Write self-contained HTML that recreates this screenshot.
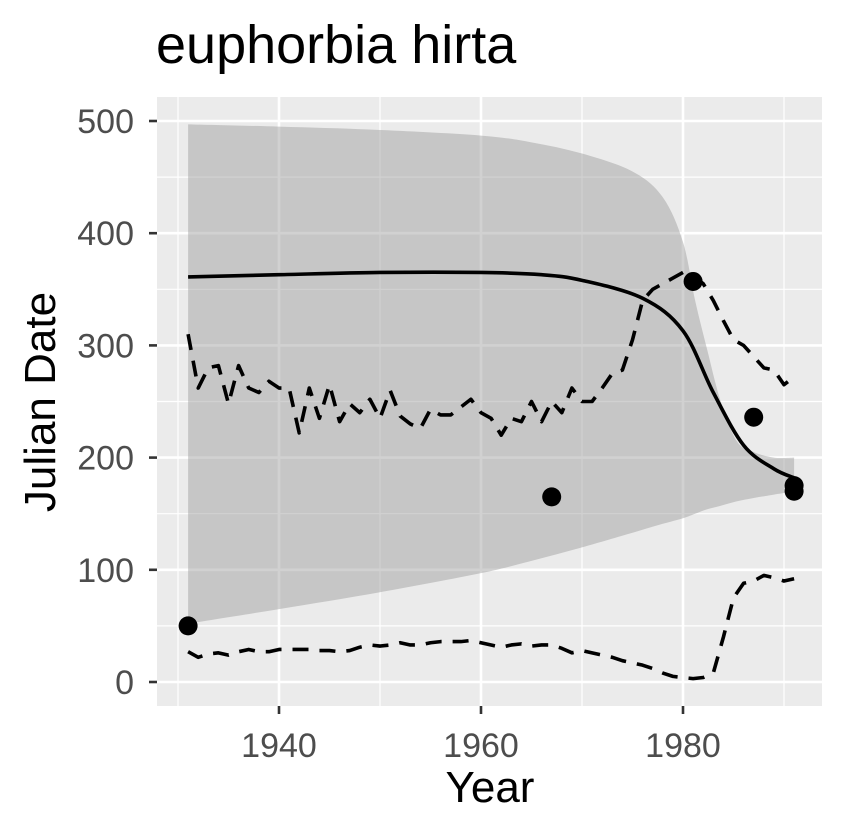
<!DOCTYPE html>
<html><head><meta charset="utf-8"><style>
body{margin:0;background:#fff}
text{font-family:"Liberation Sans",sans-serif}
</style></head><body>
<svg id="c" width="846" height="835" xmlns="http://www.w3.org/2000/svg"></svg>
<script>
const years=[];for(let y=1931;y<=1991;y++)years.push(y);
const upperDash=[310,262,280,282,248,282,262,258,268,262,262,222,262,235,265,232,248,240,252,235,260,237,230,226,243,238,238,245,252,240,235,220,235,232,250,232,250,240,262,250,250,262,275,278,305,340,350,355,360,365,362,355,340,322,305,300,290,280,278,265,272];
const lowerDash=[27,22,25,26,24,27,29,27,27,29,29,29,29,28,28,27,28,31,33,32,33,35,33,33,35,36,36,36,37,35,33,31,33,34,32,33,33,30,26,28,26,24,22,19,17,15,12,8,5,4,3,4,8,40,75,88,90,95,93,90,92];
const ribYears=[1931,1940,1950,1960,1965,1970,1975,1978,1980,1981.2,1982.4,1983.7,1985.3,1987,1989,1991];
const ribUpper=[497,495,492,487,481,471,455,432,392,340,296,251,215,205,200,200];
const ribLower=[52,65,80,97,108,120,133,141,146,150,154,157,161,164,167,170];
const fitYears=[1931,1940,1950,1960,1966,1970,1976,1980,1983,1986,1989,1991];
const fitVals=[361,363,365,365,363,358,342,313,258,211,190,182];
const ptYears=[1931,1967,1981,1987,1991,1991];
const ptVals=[50,165,357,236,170,175];
const yTicks=[0,100,200,300,400,500];
const xTicks=[1940,1960,1980];

const L=157,R=822,T=97,B=706;
const X=v=>279+(v-1940)*10.1;
const Y=v=>682-v*1.122;
const svg=document.getElementById('c');
const NS='http://www.w3.org/2000/svg';
function mk(t,a,p){const e=document.createElementNS(NS,t);for(const k in a)e.setAttribute(k,a[k]);(p||svg).appendChild(e);return e;}
function smooth(pts,start){let d=(start?'M':'L')+pts[0][0]+','+pts[0][1];
for(let i=0;i<pts.length-1;i++){const p0=pts[i-1]||pts[i],p1=pts[i],p2=pts[i+1],p3=pts[i+2]||p2;
d+='C'+(p1[0]+(p2[0]-p0[0])/6)+','+(p1[1]+(p2[1]-p0[1])/6)+' '+(p2[0]-(p3[0]-p1[0])/6)+','+(p2[1]-(p3[1]-p1[1])/6)+' '+p2[0]+','+p2[1];}
return d;}
let e=mk('rect',{x:L,y:T,width:R-L,height:B-T,fill:'#ebebeb'});


[50,150,250,350,450].forEach(v=>{e=mk('line',{x1:L,x2:R,y1:Y(v),y2:Y(v),stroke:'#fff','stroke-width':1.2});

});
[1930,1950,1970,1990].forEach(v=>{e=mk('line',{y1:T,y2:B,x1:X(v),x2:X(v),stroke:'#fff','stroke-width':1.2});

});
yTicks.forEach(v=>{e=mk('line',{x1:L,x2:R,y1:Y(v),y2:Y(v),stroke:'#fff','stroke-width':2.6});


e=mk('line',{x1:L-8,x2:L,y1:Y(v),y2:Y(v),stroke:'#333','stroke-width':2.6});


e=mk('text',{x:L-23,y:Y(v)+12,'text-anchor':'end','font-size':34,fill:'#4d4d4d'});e.textContent=v;

});
xTicks.forEach(v=>{e=mk('line',{y1:T,y2:B,x1:X(v),x2:X(v),stroke:'#fff','stroke-width':2.6});


e=mk('line',{y1:B,y2:B+8,x1:X(v),x2:X(v),stroke:'#333','stroke-width':2.6});


e=mk('text',{x:X(v),y:B+51,'text-anchor':'middle','font-size':34,fill:'#4d4d4d'});e.textContent=v;

});
const up=ribYears.map((y,i)=>[X(y),Y(ribUpper[i])]);
const lo=ribYears.map((y,i)=>[X(y),Y(ribLower[i])]).reverse();
e=mk('path',{d:smooth(up,true)+smooth(lo,false)+'Z',fill:'#999','fill-opacity':0.45});


function line(xs,ys,dash){const p=xs.map((y,i)=>(i?'L':'M')+X(y)+','+Y(ys[i])).join('');
return mk('path',{d:p,fill:'none',stroke:'#000','stroke-width':3.6,'stroke-dasharray':dash,'stroke-linejoin':'round'});}
e=line(years,upperDash,'16 11');


e=line(years,lowerDash,'16 11');


e=mk('path',{d:smooth(fitYears.map((y,i)=>[X(y),Y(fitVals[i])]),true),fill:'none',stroke:'#000','stroke-width':3.6});


ptYears.forEach((y,i)=>{e=mk('circle',{cx:X(y),cy:Y(ptVals[i]),r:9.5,fill:'#000'});

});
e=mk('text',{x:156,y:63,'font-size':54,fill:'#000'});e.textContent='euphorbia hirta';


e=mk('text',{x:490,y:802,'text-anchor':'middle','font-size':44,fill:'#000'});e.textContent='Year';


e=mk('text',{x:0,y:0,'text-anchor':'middle','font-size':44,fill:'#000',transform:'translate(55,402) rotate(-90)'});e.textContent='Julian Date';


</script>
</body></html>
